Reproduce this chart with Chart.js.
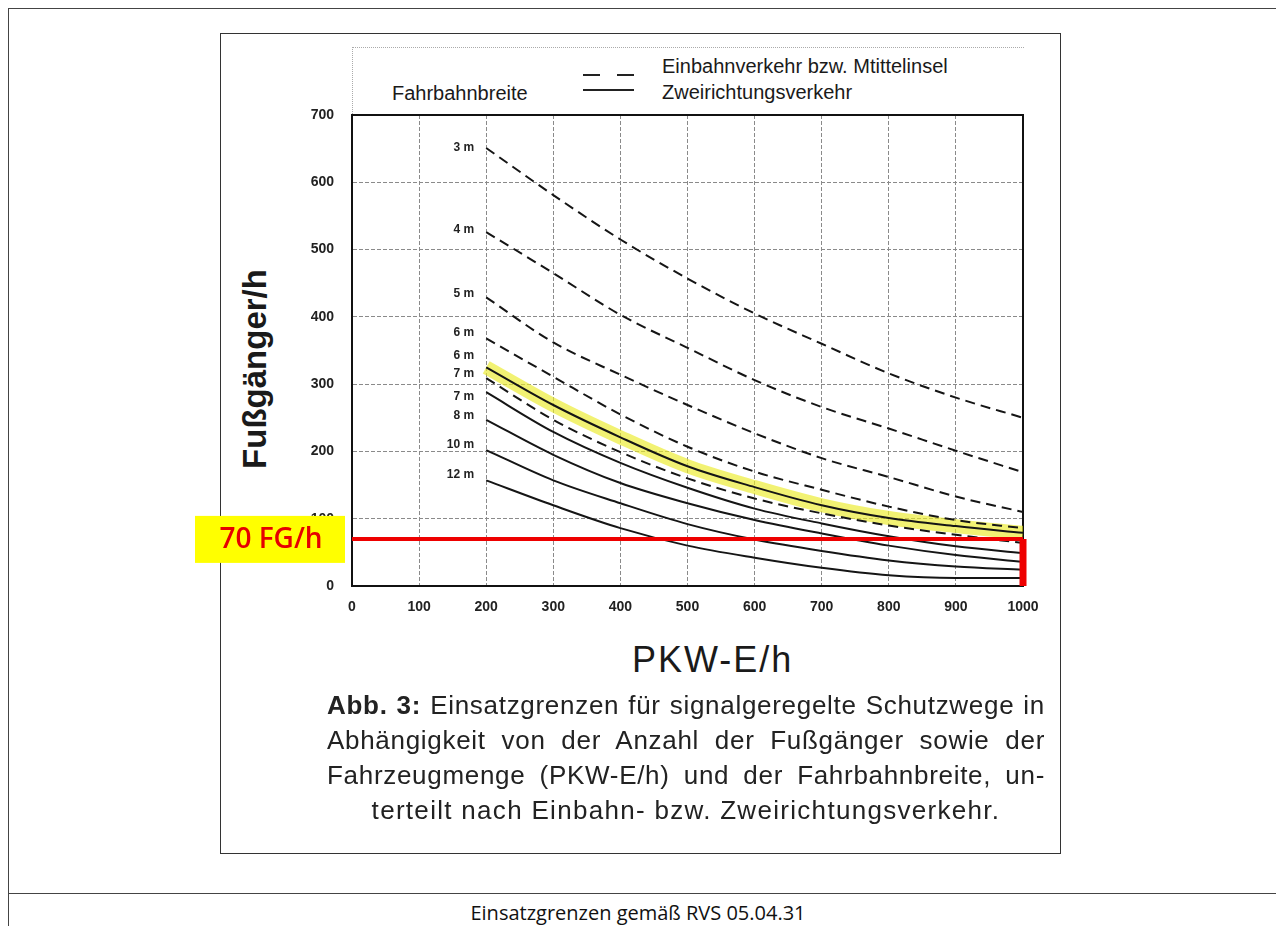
<!DOCTYPE html>
<html>
<head>
<meta charset="utf-8">
<script src="https://cdn.jsdelivr.net/npm/chart.js@4/dist/chart.umd.min.js"></script>
<style>
    body { margin: 0; background: #fff; font-family: "Liberation Sans", Arial, sans-serif; color: #111; }
    #outer { position: absolute; left: 8px; top: 8px; width: 1300px; height: 1000px; border-left: 1px solid #444; border-top: 1px solid #444; }
    #footLine { position: absolute; left: 8px; top: 893px; width: 1300px; border-top: 1px solid #444; }
    #foot { position: absolute; left: 0; width: 1276px; top: 899px; text-align: center; font: 20px "Open Sans", sans-serif; color: #111; }
    #frame { position: absolute; left: 220px; top: 33px; width: 839px; height: 819px; border: 1px solid #333; }
    #scanEdge { position: absolute; left: 352px; top: 47px; width: 671px; height: 68px; border-left: 1px dotted #aaa; border-top: 1px dotted #aaa; }
    .lg { position: absolute; font-size: 20px; line-height: 20px; white-space: nowrap; color: #1a1a1a; }
    .ls { position: absolute; border-top: 2px solid #222; height: 0; }
    #chartBox { position: absolute; left: 180px; top: 34px; width: 880px; height: 660px; }
    #yTitle { position: absolute; left: 255px; top: 369px; transform: translate(-50%, -50%) rotate(-90deg); font-size: 33px; font-weight: bold; white-space: nowrap; color: #1a1a1a; }
    #xTitle { position: absolute; left: 632px; top: 640px; font-size: 36px; line-height: 40px; letter-spacing: 2px; white-space: nowrap; color: #1a1a1a; }
    .cap { position: absolute; left: 327px; width: 718px; font-size: 26px; line-height: 35px; letter-spacing: 0.7px; color: #222; white-space: nowrap; }
    .just { text-align: justify; text-align-last: justify; }
</style>
</head>
<body>
<div id="outer"></div>
<div id="footLine"></div>
<div id="foot">Einsatzgrenzen gemäß RVS 05.04.31</div>
<div id="frame"></div>
<div id="scanEdge"></div>

<div class="lg" style="left:392px;top:83px;">Fahrbahnbreite</div>
<div class="ls" style="left:583px;top:74px;width:17px;"></div>
<div class="ls" style="left:617px;top:74px;width:17px;"></div>
<div class="ls" style="left:583px;top:89px;width:51px;"></div>
<div class="lg" style="left:662px;top:56px;">Einbahnverkehr bzw. Mtittelinsel</div>
<div class="lg" style="left:662px;top:82px;">Zweirichtungsverkehr</div>

<div id="yTitle">Fußgänger/h</div>
<div id="xTitle">PKW-E/h</div>

<div id="chartBox"><canvas id="lineChart"></canvas></div>

<div class="cap just" style="top:688px;"><b>Abb. 3:</b> Einsatzgrenzen für signalgeregelte Schutzwege in</div>
<div class="cap just" style="top:723px;">Abhängigkeit von der Anzahl der Fußgänger sowie der</div>
<div class="cap just" style="top:758px;">Fahrzeugmenge (PKW-E/h) und der Fahrbahnbreite, un-</div>
<div class="cap" style="top:793px;text-align:center;letter-spacing:1.3px;">terteilt nach Einbahn- bzw. Zweirichtungsverkehr.</div>

<script>
// PKW-E/h
const xValues = [200, 300, 400, 500, 600, 700, 800, 900, 1000];

// Einbahnverkehr bzw. Mittelinsel (dashed)
const oneWay3 = [651, 581, 515, 457, 405, 360, 316, 280, 250];
const oneWay4 = [526, 465, 403, 354, 306, 266, 234, 201, 169];
const oneWay5 = [429, 362, 314, 269, 227, 190, 162, 133, 110];
const oneWay6 = [368, 311, 255, 207, 170, 143, 118, 98, 86];
const oneWay7 = [309, 247, 199, 160, 130, 108, 90, 76, 64];

// Zweirichtungsverkehr (solid)
const twoWay6 = [325, 269, 221, 178, 147, 120, 101, 89, 79];
const twoWay7 = [288, 229, 183, 146, 115, 93, 74, 59, 49];
const twoWay8 = [247, 195, 153, 123, 98, 78, 60, 46, 36];
const twoWay10 = [202, 157, 123, 92, 69, 52, 38, 29, 24];
const twoWay12 = [157, 120, 86, 60, 42, 27, 16, 12, 12];

// curve labels (text and the Fußgänger/h value they sit at)
const curveLabels = ['3 m', '4 m', '5 m', '6 m', '6 m', '7 m', '7 m', '8 m', '10 m', '12 m'];
const labelValues = [651, 529, 435, 377, 343, 316, 281, 253, 210, 165];

const limitValue = 70;
const limitText = '70 FG/h';
const xMax = 1000;

const xTicks = [0, 100, 200, 300, 400, 500, 600, 700, 800, 900, 1000];
const yTicks = [0, 100, 200, 300, 400, 500, 600, 700];

function toPoints(values) {
    return values.map((v, i) => ({ x: xValues[i], y: v }));
}

function curve(label, values, dashed) {
    return {
        label: label,
        data: toPoints(values),
        borderColor: '#151515',
        borderWidth: 2,
        borderDash: dashed ? [10, 6] : [],
        pointRadius: 0,
        fill: false,
        cubicInterpolationMode: 'monotone',
        order: 10
    };
}

const frameAndLabels = {
    id: 'frameAndLabels',
    beforeDatasetsDraw(chart) {
        const { ctx, chartArea: a } = chart;
        ctx.save();
        ctx.strokeStyle = '#111';
        ctx.lineWidth = 2;
        ctx.strokeRect(a.left, a.top, a.width, a.height);
        ctx.restore();
    },
    afterDraw(chart) {
        const { ctx } = chart;
        const xs = chart.scales.x, ys = chart.scales.y;
        ctx.save();
        ctx.fillStyle = '#222';
        ctx.font = 'bold 12px "Liberation Sans"';
        ctx.textAlign = 'right';
        ctx.textBaseline = 'middle';
        const lx = xs.getPixelForValue(xValues[0]) - 12;
        curveLabels.forEach((t, i) => ctx.fillText(t, lx, ys.getPixelForValue(labelValues[i])));

        // yellow label box for the limit
        const py = ys.getPixelForValue(limitValue);
        ctx.fillStyle = '#ffff00';
        ctx.fillRect(15, py - 23, 150, 47);
        ctx.fillStyle = '#e60000';
        ctx.font = '600 28px "Open Sans"';
        ctx.textAlign = 'center';
        ctx.fillText(limitText, 91, py + 1);
        ctx.restore();
    }
};

const lineCtx = document.getElementById('lineChart').getContext('2d');
const lineChart = new Chart(lineCtx, {
    type: 'line',
    data: {
        datasets: [
            {
                label: 'highlight',
                data: toPoints(twoWay6),
                borderColor: 'rgba(235, 235, 40, 0.65)',
                borderWidth: 14,
                pointRadius: 0,
                fill: false,
                cubicInterpolationMode: 'monotone',
                order: 20
            },
            curve('3 m', oneWay3, true),
            curve('4 m', oneWay4, true),
            curve('5 m', oneWay5, true),
            curve('6 m', oneWay6, true),
            curve('7 m', oneWay7, true),
            curve('6 m', twoWay6, false),
            curve('7 m', twoWay7, false),
            curve('8 m', twoWay8, false),
            curve('10 m', twoWay10, false),
            curve('12 m', twoWay12, false),
            {
                label: 'limit',
                data: [{ x: 0, y: limitValue }, { x: xMax, y: limitValue }],
                borderColor: '#ee0000',
                borderWidth: 4,
                pointRadius: 0,
                order: 0
            },
            {
                label: 'limit end',
                data: [{ x: xMax, y: limitValue }, { x: xMax, y: 0 }],
                borderColor: '#ee0000',
                borderWidth: 7,
                pointRadius: 0,
                clip: 10,
                order: 0
            }
        ]
    },
    options: {
        responsive: true,
        maintainAspectRatio: false,
        animation: false,
        layout: { padding: { left: 54, right: 37, top: 81, bottom: 16 } },
        plugins: {
            legend: { display: false },
            tooltip: { enabled: false }
        },
        scales: {
            x: {
                type: 'linear',
                min: 0,
                max: xMax,
                afterBuildTicks: s => { s.ticks = xTicks.map(v => ({ value: v })); },
                afterFit: s => { s.height = 92; },
                grid: { color: '#8a8a8a', lineWidth: 1, drawTicks: false },
                border: { display: true, color: '#111', width: 2, dash: [4, 2] },
                ticks: {
                    color: '#222',
                    font: { family: 'Liberation Sans', size: 14, weight: 'bold' },
                    padding: 13,
                    maxRotation: 0,
                    callback: v => String(v)
                }
            },
            y: {
                min: 0,
                max: 700,
                afterBuildTicks: s => { s.ticks = yTicks.map(v => ({ value: v })); },
                afterFit: s => { s.width = 118; },
                grid: { color: '#8a8a8a', lineWidth: 1, drawTicks: false },
                border: { display: true, color: '#111', width: 2, dash: [4, 2] },
                ticks: {
                    color: '#222',
                    font: { family: 'Liberation Sans', size: 14, weight: 'bold' },
                    padding: 18,
                    callback: v => String(v)
                }
            }
        }
    },
    plugins: [frameAndLabels]
});
</script>
</body>
</html>
